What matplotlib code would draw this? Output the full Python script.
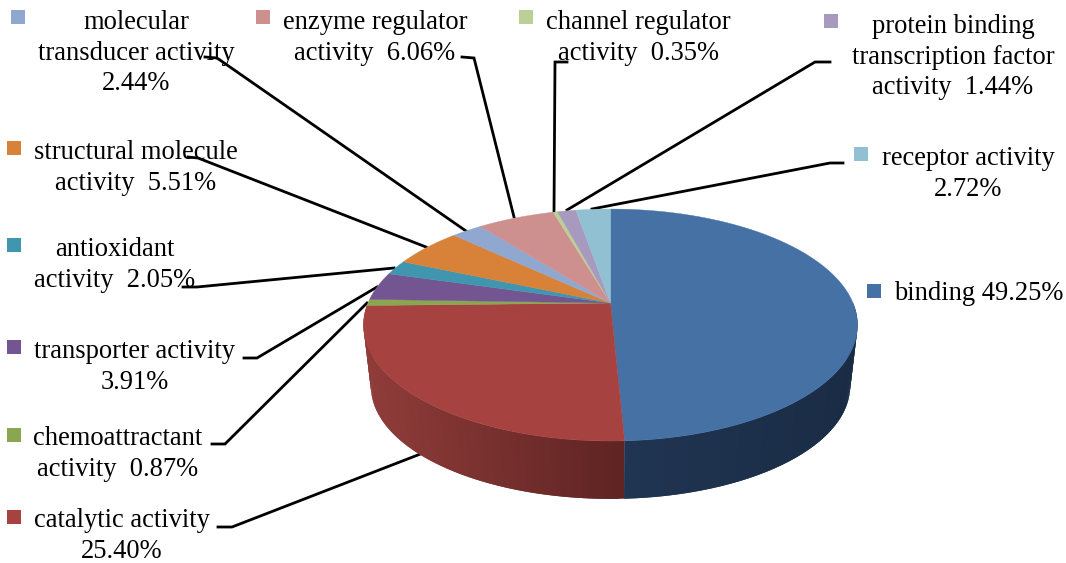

import numpy as np
import matplotlib
matplotlib.use('Agg')
import matplotlib.pyplot as plt
from matplotlib.patches import Rectangle

plt.rcParams['font.family'] = ['Liberation Serif', 'DejaVu Serif']

# chart data, clockwise from 12 o'clock
categories = ['binding', 'catalytic activity', 'chemoattractant activity',
              'transporter activity', 'antioxidant activity',
              'structural molecule activity', 'molecular transducer activity',
              'enzyme regulator activity', 'channel regulator activity',
              'protein binding transcription factor activity',
              'receptor activity']
percents = [49.25, 25.40, 0.87, 3.91, 2.05, 5.51, 2.44, 6.06, 0.35, 1.44, 2.72]
labels = ['binding 49.25%',
          'catalytic activity\n25.40%',
          'chemoattractant\nactivity  0.87%',
          'transporter activity\n3.91%',
          'antioxidant\nactivity  2.05%',
          'structural molecule\nactivity  5.51%',
          'molecular\ntransducer activity\n2.44%',
          'enzyme regulator\nactivity  6.06%',
          'channel regulator\nactivity  0.35%',
          'protein binding\ntranscription factor\nactivity  1.44%',
          'receptor activity\n2.72%']
colors = ['#4571A5', '#A64341', '#8BA650', '#735592', '#4096AF', '#D88239',
          '#90A8CF', '#CE8F8F', '#BBCF96', '#A899BF', '#91C0D3']

# label layout in pixels: text centre, marker corner, leader line
text_pos = [(979, 293), (122, 536), (118, 454), (135, 367), (115, 265), (136, 168),
            (136, 53), (375, 38), (638, 38), (953, 57), (968, 174)]
marker_pos = [(867, 284), (7, 510), (7, 428), (7, 340), (7, 238), (7, 141),
              (11, 10), (256, 10), (519, 10), (824, 14), (854, 147)]
leaders = [None,
           [(218, 527), (232, 527), (423, 453)],
           [(212, 444), (225, 444), (367, 303)],
           [(244, 358), (257, 358), (377, 287)],
           [(183, 287), (197, 287), (394, 268)],
           [(188, 157), (198, 158), (426, 247)],
           [(205, 57), (217, 58), (466, 231)],
           [(462, 57), (474, 58), (514, 217)],
           [(567, 62), (555, 62), (554, 212)],
           [(830, 62), (815, 62), (567, 210)],
           [(843, 163), (830, 163), (592, 209)]]

# pie geometry in pixels
CX, CY = 610.5, 303
RX, RY = 242.5, 111.8
PERSP = 0.19
WALL_CY, WALL_SCALE = 365, 0.97

# wall shading, left to right
red_wall = np.array(matplotlib.colors.to_rgb('#8F3C39')), np.array(matplotlib.colors.to_rgb('#5F2423'))
blue_wall = np.array(matplotlib.colors.to_rgb('#203552')), np.array(matplotlib.colors.to_rgb('#1A2C45'))


def project(theta, radius=1.0, cy=CY, scale=1.0):
    '''
    Takes clockwise angle in radians from 12 o'clock and returns the pixel
    position on the tilted disc
    '''
    x = radius * np.sin(theta)
    y = radius * np.cos(theta)
    w = 1 + PERSP * y
    return CX + scale * RX * x / w, cy - scale * RY * y / w


fig = plt.figure(figsize=(10.66, 5.63), dpi=100)
ax = fig.add_axes([0, 0, 1, 1])
ax.set_xlim(0, 1066)
ax.set_ylim(563, 0)
ax.axis('off')

edges = np.cumsum([0] + percents) / sum(percents) * 2 * np.pi

# leader lines go under the pie
for line in leaders:
    if line is not None:
        ax.plot(*zip(*line), color='black', lw=2.0, solid_joinstyle='miter', zorder=1)

# side wall of the two front slices, each strip runs on to the end of the next
# one so that no seams show
for i, shade in [(1, red_wall), (0, blue_wall)]:
    start = max(edges[i], np.pi / 2)
    end = min(edges[i + 1], 3 * np.pi / 2)
    steps = np.linspace(start, end, 90)
    order = range(len(steps) - 1) if i == 0 else range(len(steps) - 2, -1, -1)
    for k in order:
        a = steps[k]
        b = steps[min(k + 2, len(steps) - 1)]
        xa, ya = project(a)
        xb, yb = project(b)
        xc, yc = project(b, cy=WALL_CY, scale=WALL_SCALE)
        xd, yd = project(a, cy=WALL_CY, scale=WALL_SCALE)
        # colour runs with the horizontal position across the slice
        left, right = (370, 624) if i == 1 else (624, 853)
        t = np.clip(((xa + xb) / 2 - left) / (right - left), 0, 1)
        c = shade[0] * (1 - t) + shade[1] * t
        ax.fill([xa, xb, xc, xd], [ya, yb, yc, yd], color=c, lw=0, zorder=2)

# top face
for i, color in enumerate(colors):
    theta = np.linspace(edges[i], edges[i + 1], max(int(percents[i] * 4), 6))
    xs, ys = project(theta)
    ax.fill(np.r_[CX, xs], np.r_[CY, ys], color=color, lw=0.3, zorder=3)

# labels and square markers
for i, label in enumerate(labels):
    ax.text(text_pos[i][0], text_pos[i][1], label, ha='center', va='center',
            multialignment='center', fontsize=19.1, linespacing=1.28,
            color='black', zorder=4)
    ax.add_patch(Rectangle(marker_pos[i], 14, 14, facecolor=colors[i],
                           edgecolor='none', zorder=4))

fig.savefig('out.png', dpi=100)
